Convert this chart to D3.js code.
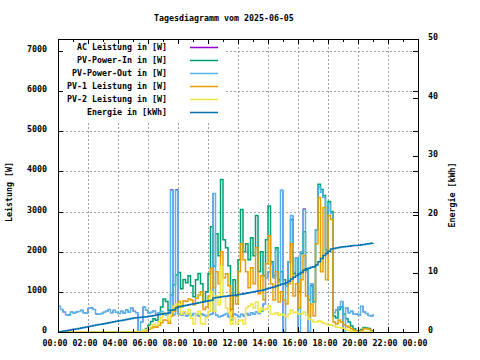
<!DOCTYPE html>
<html><head><meta charset="utf-8">
<script src="https://cdn.jsdelivr.net/npm/d3@7"></script>
<style>
html,body{margin:0;padding:0;background:#fff;}
text{font-family:"DejaVu Sans Mono",monospace;font-size:8.3px;font-weight:bold;fill:#000;}
</style></head>
<body><svg id="c" width="480" height="360"></svg>
<script>
// ---- data (10-minute samples starting 2025-06-05 00:00) ----
const startTime = "2025-06-05T00:00:00Z";
const stepMinutes = 10;
const seriesNames = ["AC Leistung in [W]","PV-Power-In in [W]","PV-Power-Out in [W]","PV-1 Leistung in [W]","PV-2 Leistung in [W]","Energie in [kWh]"];
const seriesColors = ["#9400d3","#009e73","#56b4e9","#e69f00","#f0e442","#0072b2"];
const xTickLabels = ["00:00","02:00","04:00","06:00","08:00","10:00","12:00","14:00","16:00","18:00","20:00","22:00","00:00"];
const yTicks = [0,1000,2000,3000,4000,5000,6000,7000];
const y2Ticks = [0,10,20,30,40,50];

const pvOut = [640,560,500,430,420,500,470,500,510,540,480,470,590,600,560,450,440,460,490,520,560,480,540,490,460,520,470,550,490,600,520,480,0,
250,620,540,470,490,530,460,480,510,470,420,500,3530,430,3530,450,420,470,400,440,410,460,430,400,450,420,390,430,450,3450,420,380,400,430,460,380,300,450,420,380,440,400,460,420,480,440,500,460,520,700,1350,1500,1700,1350,2050,1250,3530,0,1150,1750,2900,1500,1850,0,2000,3050,1500,0,1200,750,2550,3620,3480,3350,2000,3200,2950,480,550,620,760,0,600,480,520,440,450,420,640,500,460,410,400,440];
const acPower = [640,560,500,430,440,500,470,500,510,540,480,470,590,600,560,450,440,460,490,520,560,480,540,490,460,520,470,550,490,600,520,480,0,
250,620,540,470,490,530,460,480,510,470,420,500,3550,430,3550,450,420,470,400,440,410,460,430,400,450,420,390,430,450,3450,420,380,400,430,460,380,300,450,420,380,440,400,460,420,480,440,500,460,520,700,1350,1500,1700,1350,2050,1250,3530,0,1150,1750,2900,1500,1850,0,2000,3070,1500,0,1200,750,2550,3620,3480,3350,2000,3200,2950,480,550,620,760,0,600,480,520,440,450,420,640,500,460,410,400,440];
const pvIn = [0,0,0,0,0,0,0,0,0,0,0,0,0,0,0,0,0,0,0,0,0,0,0,0,0,0,0,0,0,0,0,0,0,
0,40,90,170,260,330,290,450,620,820,760,540,920,1180,1420,1480,1080,1310,1230,1400,1150,880,1300,1460,1200,760,1000,1450,2620,1640,2450,1900,3800,2300,2100,1650,560,1300,900,1800,3050,2000,2200,1800,2350,1900,2900,1500,2000,1400,2300,3140,1750,1400,2100,1300,1500,1300,1150,1750,2800,1450,1850,1000,1950,2500,1550,800,1150,750,2550,3680,3550,3400,2050,3250,3000,400,350,560,620,450,330,250,150,80,40,30,60,110,100,90,30,0];
const pv1 = [0,0,0,0,0,0,0,0,0,0,0,0,0,0,0,0,0,0,0,0,0,0,0,0,0,0,0,0,0,0,0,0,0,
0,10,30,70,100,130,120,170,230,300,290,220,400,520,640,760,620,780,760,820,800,680,840,920,1000,560,620,900,1580,1100,1500,1200,2000,1350,1450,1150,380,900,700,1500,2200,1800,1500,1100,1600,1200,2100,950,1400,800,1700,2400,1200,800,1500,750,1000,800,700,1200,2200,900,1200,600,1300,1900,900,400,700,400,2200,3350,1500,3100,1300,2900,2800,250,200,300,250,180,150,120,80,40,20,10,40,90,80,70,20,0];
const pv2 = [0,0,0,0,0,0,0,0,0,0,0,0,0,0,0,0,0,0,0,0,0,0,0,0,0,0,0,0,0,0,0,0,0,
0,30,60,100,160,190,170,260,360,470,450,310,500,640,700,690,440,520,450,560,340,200,450,520,210,190,360,520,1000,520,900,680,1640,900,600,480,190,350,200,280,300,200,600,650,700,600,750,500,600,550,580,650,450,450,480,420,450,420,380,450,550,480,500,450,450,500,420,320,300,250,250,280,250,220,200,180,170,150,120,110,100,80,60,40,20,10,0,0,0,0,0,0,0,0];
const energy = [0.00,0.08,0.16,0.23,0.30,0.38,0.46,0.53,0.61,0.69,0.77,0.85,0.92,1.01,1.10,1.18,1.26,1.34,1.41,1.49,1.58,1.67,1.75,1.82,1.90,1.98,2.06,2.15,2.23,2.31,2.38,2.45,2.48,
2.50,2.56,2.62,2.68,2.75,2.82,2.89,2.96,3.02,3.10,3.17,3.24,3.70,3.80,4.15,4.30,4.39,4.47,4.56,4.64,4.73,4.81,4.90,4.98,5.07,5.15,5.24,5.32,5.40,5.80,5.88,5.94,6.00,6.06,6.12,6.18,6.23,6.28,6.33,6.38,6.46,6.54,6.62,6.70,6.78,6.86,6.94,7.02,7.10,7.20,7.32,7.45,7.60,7.70,7.85,7.98,8.20,8.25,8.40,8.65,9.05,9.35,9.65,9.90,10.15,10.55,10.80,10.90,11.05,11.15,11.45,12.00,12.55,13.05,13.40,13.80,14.15,14.25,14.32,14.40,14.50,14.55,14.60,14.65,14.70,14.75,14.78,14.82,14.88,14.95,15.02,15.08,15.14,15.20];

// ---- layout ----
const L=58, R=418, T=39, B=332;
const svg=d3.select("#c");
const t0=new Date(startTime);
const timeAt=i=>new Date(t0.getTime()+i*stepMinutes*60000);
const x=d3.scaleUtc().domain([t0,d3.utcDay.offset(t0,1)]).range([L,R]);
const y=d3.scaleLinear().domain([0,7300]).range([B,T]);
const y2=d3.scaleLinear().domain([0,50]).range([B,T]);

// grid
const g=svg.append("g").attr("shape-rendering","crispEdges");
const majorX=x.ticks(d3.utcHour.every(2));
const minorX=x.ticks(d3.utcHour.every(1));
g.selectAll(".gx").data(majorX.slice(1,-1)).enter().append("line")
 .attr("x1",d=>Math.round(x(d))+0.5).attr("x2",d=>Math.round(x(d))+0.5)
 .attr("y1",T).attr("y2",B).attr("stroke","#a0a0a0").attr("stroke-dasharray","2,2");
g.selectAll(".gy").data(yTicks.slice(1)).enter().append("line")
 .attr("x1",L).attr("x2",R).attr("y1",d=>Math.round(y(d))+0.5).attr("y2",d=>Math.round(y(d))+0.5)
 .attr("stroke","#a0a0a0").attr("stroke-dasharray","2,2");
// key background
svg.append("rect").attr("x",L+1).attr("y",T+1).attr("width",166).attr("height",81).attr("fill","#fff");

// data lines
const arrays=[acPower,pvIn,pvOut,pv1,pv2];
const widths=[1.0,1.5,1.5,1.5,1.5];
arrays.forEach((arr,k)=>{
  const line=d3.line().x((d,i)=>x(timeAt(i))).y(d=>y(d)).curve(d3.curveStepAfter);
  svg.append("path").datum(arr).attr("d",line).attr("fill","none")
   .attr("stroke",seriesColors[k]).attr("stroke-width",widths[k]);
});
const eLine=d3.line().x((d,i)=>x(timeAt(i))).y(d=>y2(d)).curve(d3.curveStepAfter);
svg.append("path").datum(energy).attr("d",eLine).attr("fill","none")
 .attr("stroke",seriesColors[5]).attr("stroke-width",1.5);

// border
svg.append("rect").attr("x",L+0.5).attr("y",T+0.5).attr("width",R-L).attr("height",B-T)
 .attr("fill","none").attr("stroke","#000").attr("shape-rendering","crispEdges");

// ticks
const tk=svg.append("g").attr("stroke","#000").attr("shape-rendering","crispEdges");
minorX.forEach(d=>{
  const major=d.getUTCHours()%2===0;
  const len=major?5:3, px=Math.round(x(d))+0.5;
  tk.append("line").attr("x1",px).attr("x2",px).attr("y1",B).attr("y2",B-len);
  tk.append("line").attr("x1",px).attr("x2",px).attr("y1",T).attr("y2",T+len);
});
yTicks.forEach(d=>{
  const py=Math.round(y(d))+0.5;
  tk.append("line").attr("x1",L).attr("x2",L+5).attr("y1",py).attr("y2",py);
  tk.append("line").attr("x1",R).attr("x2",R-5).attr("y1",py).attr("y2",py);
});
y2Ticks.forEach(d=>{
  const py=Math.round(y2(d))+0.5;
  tk.append("line").attr("x1",R).attr("x2",R-5).attr("y1",py).attr("y2",py);
});

// tick labels
svg.selectAll(".xl").data(majorX).enter().append("text")
 .attr("x",(d,i)=>x(d)-3).attr("y",B+14).attr("text-anchor","middle")
 .text((d,i)=>xTickLabels[i]);
svg.selectAll(".yl").data(yTicks).enter().append("text")
 .attr("x",L-11).attr("y",d=>y(d)+1).attr("text-anchor","end").text(d=>d);
svg.selectAll(".y2l").data(y2Ticks).enter().append("text")
 .attr("x",R+10).attr("y",d=>y2(d)+1).attr("text-anchor","start").text(d=>d);

// titles
svg.append("text").attr("x",154).attr("y",21).text("Tagesdiagramm vom 2025-06-05");
svg.append("text").attr("transform","translate(12,192) rotate(-90)").attr("text-anchor","middle").text("Leistung [W]");
svg.append("text").attr("transform","translate(455,195) rotate(-90)").attr("text-anchor","middle").text("Energie [kWh]");

// key
seriesNames.forEach((n,k)=>{
  const yy=47+k*13;
  svg.append("text").attr("x",167).attr("y",yy+3).attr("text-anchor","end").text(n);
  svg.append("line").attr("x1",190).attr("x2",218).attr("y1",yy+0.5).attr("y2",yy+0.5)
   .attr("stroke",seriesColors[k]).attr("stroke-width",1.5);
});
</script></body></html>
